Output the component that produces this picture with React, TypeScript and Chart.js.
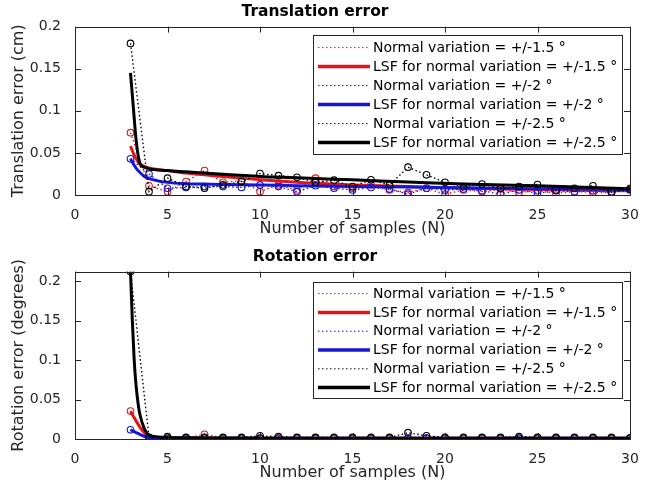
import React, { useEffect, useRef } from "react";
import { Chart, registerables } from "chart.js";

Chart.register(...registerables);

// ---------- data ----------
const sampleCounts = [3, 4, 5, 6, 7, 8, 9, 10, 11, 12, 13, 14, 15, 16, 17, 18, 19, 20, 21, 22, 23, 24, 25, 26, 27, 28, 29, 30];

const transErr15 = [0.074, 0.011, 0.004, 0.016, 0.029, 0.015, 0.017, 0.004, 0.012, 0.006, 0.020, 0.010, 0.008, 0.012, 0.006, 0.003, 0.008, 0.001, 0.006, 0.004, 0.007, 0.003, 0.005, 0.002, 0.004, 0.003, 0.003, 0.008];
const transErr2 = [0.043, 0.025, 0.008, 0.009, 0.010, 0.010, 0.009, 0.012, 0.010, 0.004, 0.011, 0.008, 0.006, 0.009, 0.007, 0.001, 0.008, 0.006, 0.007, 0.005, 0.001, 0.006, 0.002, 0.005, 0.004, 0.005, 0.003, 0.006];
const transErr25 = [0.180, 0.004, 0.020, 0.010, 0.008, 0.012, 0.016, 0.0255, 0.023, 0.021, 0.015, 0.0176, 0.010, 0.018, 0.012, 0.033, 0.024, 0.015, 0.010, 0.013, 0.008, 0.010, 0.0125, 0.006, 0.008, 0.011, 0.004, 0.007];

const lsfTransN = [3, 3.15, 3.3, 3.5, 3.75, 4, 5, 6, 7, 8, 10, 12, 15, 18, 21, 25, 30];
const lsfTrans15 = [0.058, 0.05, 0.043, 0.037, 0.034, 0.032, 0.029, 0.026, 0.024, 0.022, 0.018, 0.015, 0.012, 0.010, 0.008, 0.0065, 0.005];
const lsfTrans2 = [0.043, 0.037, 0.032, 0.027, 0.022, 0.0195, 0.015, 0.0135, 0.013, 0.0125, 0.012, 0.011, 0.010, 0.0095, 0.0085, 0.0075, 0.0065];
const lsfTrans25 = [0.145, 0.105, 0.066, 0.038, 0.033, 0.031, 0.029, 0.0275, 0.026, 0.0245, 0.022, 0.0205, 0.018, 0.0155, 0.013, 0.011, 0.0075];

const rotErr15 = [0.0354, 0.0, 0.001, 0.001, 0.006, 0.001, 0.0008, 0.0012, 0.001, 0.0008, 0.001, 0.0012, 0.001, 0.0008, 0.001, 0.001, 0.0012, 0.001, 0.0008, 0.001, 0.001, 0.0008, 0.001, 0.001, 0.0008, 0.001, 0.001, 0.0008];
const rotErr2 = [0.0117, 0.001, 0.0008, 0.001, 0.001, 0.0008, 0.001, 0.001, 0.0008, 0.001, 0.001, 0.0008, 0.001, 0.001, 0.0008, 0.001, 0.001, 0.0008, 0.001, 0.001, 0.0008, 0.001, 0.001, 0.0008, 0.001, 0.001, 0.0008, 0.001];
const rotErr25 = [0.2125, 0.002, 0.003, 0.002, 0.002, 0.002, 0.002, 0.004, 0.003, 0.002, 0.002, 0.002, 0.002, 0.002, 0.002, 0.008, 0.004, 0.002, 0.002, 0.002, 0.002, 0.003, 0.002, 0.002, 0.002, 0.002, 0.002, 0.001];

const lsfRotN = [3, 3.1, 3.2, 3.3, 3.4, 3.5, 3.75, 4, 4.5, 5, 6, 8, 10, 15, 20, 25, 30];
const lsfRot15 = [0.0354, 0.031, 0.027, 0.023, 0.019, 0.015, 0.008, 0.003, 0.0015, 0.001, 0.001, 0.001, 0.001, 0.001, 0.001, 0.001, 0.001];
const lsfRot2 = [0.0117, 0.0105, 0.0093, 0.0082, 0.0071, 0.006, 0.0035, 0.0015, 0.001, 0.001, 0.001, 0.001, 0.001, 0.001, 0.001, 0.001, 0.001];
const lsfRot25 = [0.2125, 0.15, 0.1, 0.068, 0.047, 0.032, 0.013, 0.005, 0.0025, 0.0018, 0.0015, 0.0012, 0.001, 0.001, 0.001, 0.001, 0.001];

const seriesLabels = [
  "Normal variation = +/-1.5 °",
  "LSF for normal variation = +/-1.5 °",
  "Normal variation = +/-2 °",
  "LSF for normal variation = +/-2 °",
  "Normal variation = +/-2.5 °",
  "LSF for normal variation = +/-2.5 °",
];

const xTitle = "Number of samples (N)";
const xTicks = [0, 5, 10, 15, 20, 25, 30];
const yTicks = [0, 0.05, 0.1, 0.15, 0.2];

// ---------- styles ----------
const RED = "#e3141b";
const BLUE = "#1616d6";
const BLACK = "#000000";
const AXIS = "#262626";
const FAMILY = "'DejaVu Sans', sans-serif";

const pts = (xs: number[], ys: number[]) => xs.map((x, i) => ({ x, y: ys[i] }));

function makeDatasets(
  d15: number[], d2: number[], d25: number[],
  lN: number[], l15: number[], l2: number[], l25: number[]
) {
  const dotted = (data: number[], color: string, label: string, order: number) => ({
    label,
    data: pts(sampleCounts, data),
    borderColor: color,
    backgroundColor: "rgba(0,0,0,0)",
    borderWidth: 1.4,
    borderDash: [1.5, 2.5],
    pointRadius: 3.3,
    pointBorderWidth: 1.1,
    pointBorderColor: color,
    pointBackgroundColor: "rgba(0,0,0,0)",
    tension: 0,
    order,
  });
  const solid = (data: number[], color: string, label: string, order: number) => ({
    label,
    data: pts(lN, data),
    borderColor: color,
    backgroundColor: color,
    borderWidth: 3,
    pointRadius: 0,
    tension: 0.2,
    cubicInterpolationMode: "monotone",
    order,
  });
  return [
    dotted(d15, RED, seriesLabels[0], 6),
    solid(l15, RED, seriesLabels[1], 5),
    dotted(d2, BLUE, seriesLabels[2], 4),
    solid(l2, BLUE, seriesLabels[3], 3),
    dotted(d25, BLACK, seriesLabels[4], 2),
    solid(l25, BLACK, seriesLabels[5], 1),
  ];
}

const framePlugin = {
  id: "frame",
  afterDatasetsDraw(chart: any) {
    const { ctx, chartArea, scales } = chart;
    const { left, right, top, bottom } = chartArea;
    ctx.save();
    ctx.strokeStyle = AXIS;
    ctx.lineWidth = 1;
    ctx.setLineDash([]);
    ctx.strokeRect(Math.round(left) + 0.5, Math.round(top) + 0.5, Math.round(right - left), Math.round(bottom - top));
    const L = 6;
    ctx.beginPath();
    scales.x.ticks.forEach((t: any) => {
      const px = Math.round(scales.x.getPixelForValue(t.value)) + 0.5;
      ctx.moveTo(px, bottom); ctx.lineTo(px, bottom - L);
      ctx.moveTo(px, top); ctx.lineTo(px, top + L);
    });
    scales.y.ticks.forEach((t: any) => {
      const py = Math.round(scales.y.getPixelForValue(t.value)) + 0.5;
      ctx.moveTo(left, py); ctx.lineTo(left + L, py);
      ctx.moveTo(right, py); ctx.lineTo(right - L, py);
    });
    ctx.stroke();
    ctx.restore();
  },
};

const boxLegendPlugin = {
  id: "boxLegend",
  afterDraw(chart: any, _args: any, opts: any) {
    const { ctx, chartArea } = chart;
    const x0 = chartArea.right - opts.marginRight - opts.width;
    const y0 = chartArea.top + opts.marginTop;
    ctx.save();
    ctx.fillStyle = "#ffffff";
    ctx.fillRect(x0, y0, opts.width, opts.height);
    ctx.strokeStyle = AXIS;
    ctx.lineWidth = 1;
    ctx.setLineDash([]);
    ctx.strokeRect(Math.round(x0) + 0.5, Math.round(y0) + 0.5, opts.width, opts.height);
    ctx.font = `${opts.fontSize}px ${FAMILY}`;
    ctx.textBaseline = "middle";
    ctx.textAlign = "left";
    chart.data.datasets.forEach((ds: any, i: number) => {
      const cy = y0 + opts.firstRow + i * opts.rowHeight;
      ctx.beginPath();
      ctx.strokeStyle = ds.borderColor;
      ctx.lineWidth = ds.borderDash ? 1 : 3.5;
      ctx.setLineDash(ds.borderDash ? [1.5, 2.5] : []);
      ctx.moveTo(x0 + 5, cy);
      ctx.lineTo(x0 + 57, cy);
      ctx.stroke();
      ctx.setLineDash([]);
      ctx.fillStyle = "#000000";
      ctx.fillText(ds.label, x0 + 60, cy + 0.5);
    });
    ctx.restore();
  },
};

type Props = {
  title: string;
  yTitle: string;
  yMax: number;
  datasets: any[];
  titlePadTop: number;
  legend: any;
  top: number;
};

function ErrorChart({ title, yTitle, yMax, datasets, titlePadTop, legend, top }: Props) {
  const ref = useRef<HTMLCanvasElement>(null);
  useEffect(() => {
    if (!ref.current) return;
    const chart = new Chart(ref.current, {
      type: "line",
      data: { datasets },
      options: {
        animation: false,
        responsive: false,
        maintainAspectRatio: false,
        devicePixelRatio: 1,
        layout: { padding: { left: 0, right: 40, top: 0, bottom: 0 } },
        plugins: {
          legend: { display: false },
          tooltip: { enabled: false },
          title: {
            display: true,
            text: title,
            color: "#000000",
            font: { family: FAMILY, size: 15.5, weight: "bold" },
            padding: { top: titlePadTop, bottom: 5 },
          },
          boxLegend: legend,
        } as any,
        scales: {
          x: {
            type: "linear",
            min: 0,
            max: 30,
            afterBuildTicks: (s: any) => { s.ticks = xTicks.map((v) => ({ value: v })); },
            ticks: { color: AXIS, font: { family: FAMILY, size: 14 }, padding: 4, maxRotation: 0 },
            grid: { display: false },
            border: { display: false },
            title: { display: true, text: xTitle, color: AXIS, font: { family: FAMILY, size: 16 }, padding: { top: 0, bottom: 6 } },
            afterFit: (s: any) => { s.height = 49; },
          },
          y: {
            type: "linear",
            min: 0,
            max: yMax,
            afterBuildTicks: (s: any) => { s.ticks = yTicks.map((v) => ({ value: v })); },
            ticks: {
              color: AXIS,
              font: { family: FAMILY, size: 14 },
              padding: 6,
              callback: (v: any) => String(+Number(v).toFixed(4)),
            },
            grid: { display: false },
            border: { display: false },
            title: { display: true, text: yTitle, color: AXIS, font: { family: FAMILY, size: 16 }, padding: { top: 9, bottom: 0 } },
            afterFit: (s: any) => { s.width = 75; },
          },
        },
      } as any,
      plugins: [framePlugin, boxLegendPlugin],
    });
    return () => chart.destroy();
  }, []);
  return (
    <canvas
      ref={ref}
      width={670}
      height={244}
      style={{ position: "absolute", left: 0, top, width: 670, height: 244, display: "block" }}
    />
  );
}

export default function App() {
  const transSets = makeDatasets(transErr15, transErr2, transErr25, lsfTransN, lsfTrans15, lsfTrans2, lsfTrans25);
  const rotSets = makeDatasets(rotErr15, rotErr2, rotErr25, lsfRotN, lsfRot15, lsfRot2, lsfRot25);
  return (
    <div style={{ position: "absolute", left: 0, top: 0, width: 670, height: 488, background: "#ffffff" }}>
      <ErrorChart
        title="Translation error"
        yTitle="Translation error (cm)"
        yMax={0.2}
        datasets={transSets}
        titlePadTop={3}
        legend={{ width: 309, height: 119, marginRight: 8, marginTop: 8, firstRow: 13, rowHeight: 19, fontSize: 14 }}
        top={0}
      />
      <ErrorChart
        title="Rotation error"
        yTitle="Rotation error (degrees)"
        yMax={0.2125}
        datasets={rotSets}
        titlePadTop={4}
        legend={{ width: 309, height: 116, marginRight: 8, marginTop: 10, firstRow: 12, rowHeight: 18.8, fontSize: 14 }}
        top={244}
      />
    </div>
  );
}
